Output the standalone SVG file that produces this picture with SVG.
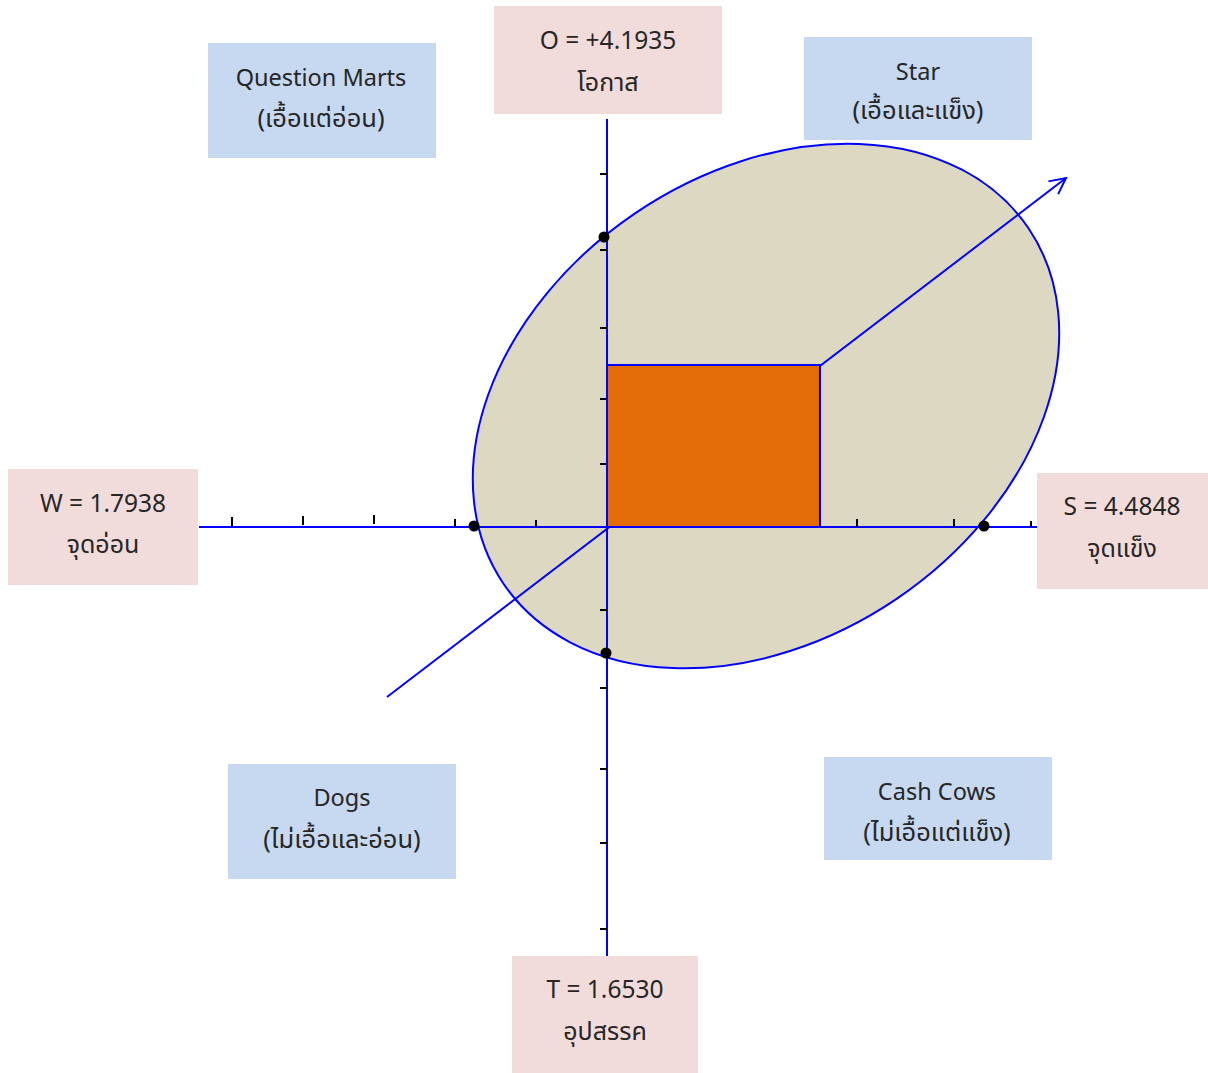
<svg xmlns="http://www.w3.org/2000/svg" width="1208" height="1073" viewBox="0 0 1208 1073">
<style>
.blue{fill:#C6D9F1}
.pink{fill:#F2DCDB}
.t{font-family:"Noto Sans","Noto Sans Thai","DejaVu Sans",sans-serif;font-size:23.5px;fill:#262626;text-anchor:middle}
.th{font-size:25.5px}
.v{font-size:24.5px}
.vt{font-size:25px}
.ax{stroke:#0000FF;stroke-width:2;fill:none}
.tk{stroke:#000;stroke-width:2}
.dot{fill:#000}
</style>
<defs>
<marker id="arr" viewBox="0 0 20 20" refX="18" refY="10" markerWidth="20" markerHeight="20" markerUnits="userSpaceOnUse" orient="auto">
<path d="M2,2 L18,10 L2,18" fill="none" stroke="#0000FF" stroke-width="2"/>
</marker>
</defs>
<rect width="1208" height="1073" fill="#fff"/>
<g id="ellipse">
<ellipse cx="766" cy="406" rx="317" ry="233" transform="rotate(-34.1 766 406)" fill="#DDD8C2" stroke="#0000FF" stroke-width="2"/>
</g>
<g id="connectors">
<line class="ax" x1="199" y1="527" x2="1037" y2="527"/>
<line class="ax" x1="607" y1="119" x2="607" y2="956"/>
<line class="ax" x1="387" y1="697" x2="1066" y2="178" marker-end="url(#arr)"/>
</g>
<g id="ticks">
<line class="tk" x1="232" y1="517" x2="232" y2="526"/>
<line class="tk" x1="303" y1="516" x2="303" y2="525"/>
<line class="tk" x1="374" y1="515" x2="374" y2="524"/>
<line class="tk" x1="455" y1="519" x2="455" y2="527"/>
<line class="tk" x1="536" y1="520" x2="536" y2="527"/>
<line class="tk" x1="857" y1="519" x2="857" y2="527"/>
<line class="tk" x1="954" y1="519" x2="954" y2="527"/>
<line class="tk" x1="1031" y1="521" x2="1031" y2="527"/>
<line class="tk" x1="600" y1="174" x2="607" y2="174"/>
<line class="tk" x1="600" y1="250" x2="607" y2="250"/>
<line class="tk" x1="600" y1="328" x2="607" y2="328"/>
<line class="tk" x1="600" y1="399" x2="607" y2="399"/>
<line class="tk" x1="600" y1="464" x2="607" y2="464"/>
<line class="tk" x1="600" y1="610" x2="607" y2="610"/>
<line class="tk" x1="600" y1="688" x2="607" y2="688"/>
<line class="tk" x1="600" y1="769" x2="607" y2="769"/>
<line class="tk" x1="600" y1="843" x2="607" y2="843"/>
<line class="tk" x1="600" y1="929" x2="607" y2="929"/>
</g>
<g id="core">
<rect x="607" y="365" width="213" height="162" fill="#E36C09" stroke="#0000FF" stroke-width="2"/>
</g>
<g id="points">
<circle class="dot" cx="604" cy="237" r="5.5"/>
<circle class="dot" cx="474" cy="526" r="5.5"/>
<circle class="dot" cx="984" cy="526" r="5.5"/>
<circle class="dot" cx="606" cy="653" r="5.5"/>
</g>
<g id="question-marts">
<rect class="blue" x="208" y="43" width="228" height="115"/>
<text class="t" x="321" y="86">Question Marts</text>
<text class="t th" x="321" y="127">(เอื้อแต่อ่อน)</text>
</g>
<g id="opportunity">
<rect class="pink" x="494" y="6" width="228" height="108"/>
<text class="t v" x="608" y="49">O = +4.1935</text>
<text class="t vt" x="608" y="91">โอกาส</text>
</g>
<g id="star">
<rect class="blue" x="804" y="37" width="228" height="103"/>
<text class="t" x="918" y="80">Star</text>
<text class="t th" x="918" y="119">(เอื้อและแข็ง)</text>
</g>
<g id="weakness">
<rect class="pink" x="8" y="469" width="190" height="116"/>
<text class="t v" x="103" y="512">W = 1.7938</text>
<text class="t vt" x="103" y="553">จุดอ่อน</text>
</g>
<g id="strength">
<rect class="pink" x="1037" y="473" width="171" height="116"/>
<text class="t v" x="1122" y="515">S = 4.4848</text>
<text class="t vt" x="1122" y="557">จุดแข็ง</text>
</g>
<g id="dogs">
<rect class="blue" x="228" y="764" width="228" height="115"/>
<text class="t" x="342" y="806">Dogs</text>
<text class="t th" x="342" y="848">(ไม่เอื้อและอ่อน)</text>
</g>
<g id="cash-cows">
<rect class="blue" x="824" y="757" width="228" height="103"/>
<text class="t" x="937" y="800">Cash Cows</text>
<text class="t th" x="937" y="841">(ไม่เอื้อแต่แข็ง)</text>
</g>
<g id="threat">
<rect class="pink" x="512" y="956" width="186" height="117"/>
<text class="t v" x="605" y="998">T = 1.6530</text>
<text class="t vt" x="605" y="1040">อุปสรรค</text>
</g>
</svg>
